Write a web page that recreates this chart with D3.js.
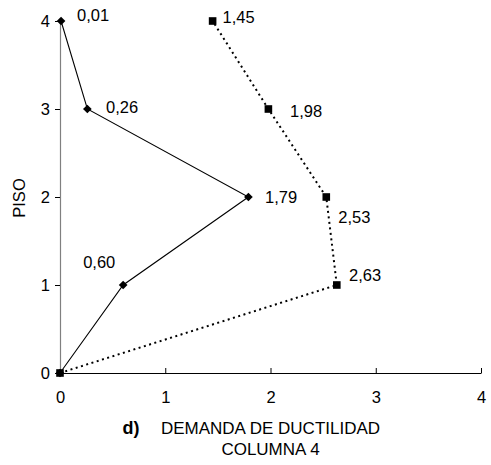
<!DOCTYPE html>
<html>
<head>
<meta charset="utf-8">
<script src="https://cdn.jsdelivr.net/npm/d3@7"></script>
<style>
  html, body { margin: 0; padding: 0; background: #fff; }
  svg { display: block; font-family: "Liberation Sans", Arial, sans-serif; }
</style>
</head>
<body>
<svg id="chart" width="491" height="465"></svg>
<script>
// ---- data ----
const floors = [0, 1, 2, 3, 4];
const seriesSolid = [0, 0.60, 1.79, 0.26, 0.01];
const seriesDotted = [0, 2.63, 2.53, 1.98, 1.45];
const xTicks = [0, 1, 2, 3, 4];
const yTicks = [0, 1, 2, 3, 4];
const xTitle = ["DEMANDA DE DUCTILIDAD", "COLUMNA 4"];
const yTitle = "PISO";
const panelLabel = "d)";

// ---- layout (pixel offsets for value labels, per floor) ----
const solidLabelOffsets = [null, [-40, -22.5], [16.6, 0], [18.6, -2], [16, -5.7]];
const dottedLabelOffsets = [null, [12.2, -10], [12, 20.5], [21.6, 2], [10, -3.5]];

const svg = d3.select("#chart");
const x = d3.scaleLinear().domain([0, 4]).range([60, 481]);
const y = d3.scaleLinear().domain([0, 4]).range([373, 21]);
const fmt = v => d3.format(".2f")(v).replace(".", ",");
const fs = 16.5;

// x axis (ticks pointing inward/up)
const gx = svg.append("g").attr("transform", `translate(0,${y(0)})`)
  .call(d3.axisBottom(x).tickValues(xTicks).tickSizeInner(-5).tickSizeOuter(0).tickPadding(0).tickFormat(d3.format("d")));
gx.select(".domain").attr("stroke", "#000").attr("stroke-width", 1.2);
gx.selectAll(".tick line").attr("stroke", "#000");
gx.selectAll(".tick text").attr("font-size", fs).attr("fill", "#000")
  .attr("y", 24).attr("dy", "0.35em");

// y axis
const gy = svg.append("g").attr("transform", `translate(${x(0)},0)`)
  .call(d3.axisLeft(y).tickValues(yTicks).tickSizeInner(5).tickSizeOuter(0).tickPadding(5).tickFormat(d3.format("d")));
gy.select(".domain").attr("stroke", "#808080").attr("stroke-width", 1.2);
gy.selectAll(".tick line").attr("stroke", "#000");
gy.selectAll(".tick text").attr("font-size", fs).attr("fill", "#000");

const line = d3.line().x(d => x(d[0])).y(d => y(d[1]));
const solidPts = floors.map((f, i) => [seriesSolid[i], f]);
const dottedPts = floors.map((f, i) => [seriesDotted[i], f]);

svg.append("path").datum(dottedPts).attr("d", line)
  .attr("fill", "none").attr("stroke", "#000").attr("stroke-width", 2)
  .attr("stroke-dasharray", "2,3.5");
svg.append("path").datum(solidPts).attr("d", line)
  .attr("fill", "none").attr("stroke", "#000").attr("stroke-width", 1.1);

// markers
svg.selectAll(".sq").data(dottedPts).enter().append("rect")
  .attr("x", d => x(d[0]) - 3.8).attr("y", d => y(d[1]) - 3.8)
  .attr("width", 7.6).attr("height", 7.6).attr("fill", "#000");
const diamond = d3.symbol().type(d3.symbolDiamond2).size(48);
svg.selectAll(".dm").data(solidPts).enter().append("path")
  .attr("d", diamond)
  .attr("transform", d => `translate(${x(d[0])},${y(d[1])})`)
  .attr("fill", "#000");

// value labels
function labels(pts, offs) {
  svg.selectAll(null).data(pts.filter((d, i) => offs[i])).enter().append("text")
    .attr("x", d => x(d[0]) + offs[floors.indexOf(d[1])][0])
    .attr("y", d => y(d[1]) + offs[floors.indexOf(d[1])][1])
    .attr("dy", "0.35em").attr("font-size", fs).attr("fill", "#000")
    .text(d => fmt(d[0]));
}
labels(solidPts, solidLabelOffsets);
labels(dottedPts, dottedLabelOffsets);

// axis titles
const cx = (x(0) + x(4)) / 2;
svg.append("text").attr("x", cx).attr("y", 428).attr("dy", "0.35em")
  .attr("text-anchor", "middle").attr("font-size", 17).text(xTitle[0]);
svg.append("text").attr("x", cx).attr("y", 449).attr("dy", "0.35em")
  .attr("text-anchor", "middle").attr("font-size", 17).text(xTitle[1]);
svg.append("text").attr("x", 131).attr("y", 428).attr("dy", "0.35em")
  .attr("text-anchor", "middle").attr("font-size", 18).attr("font-weight", "bold").text(panelLabel);
svg.append("text").attr("transform", `translate(19,198) rotate(-90)`)
  .attr("dy", "0.35em").attr("text-anchor", "middle").attr("font-size", fs).text(yTitle);
</script>
</body>
</html>
